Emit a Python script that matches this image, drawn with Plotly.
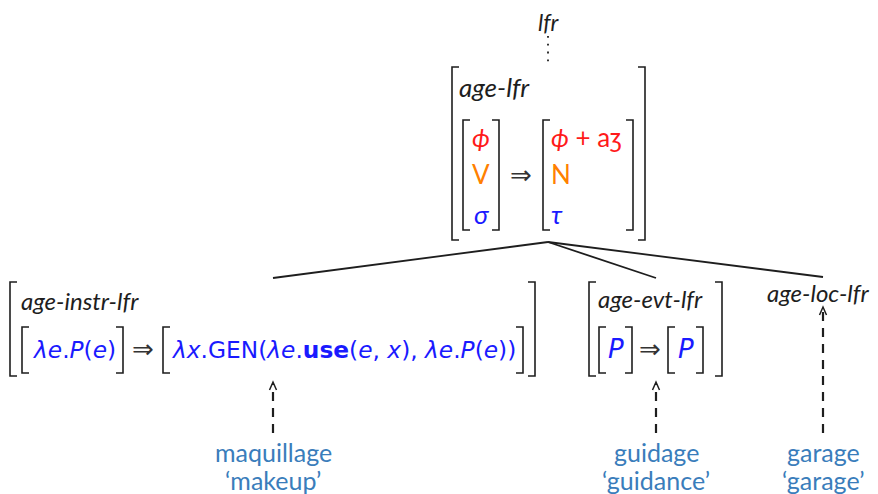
import plotly.graph_objects as go

# ---- data (text content of the diagram) ----
root_label = "lfr"
top_type = "age-lfr"
top_in = ["ϕ", "V", "σ"]
top_out = ["ϕ + aʒ", "N", "τ"]
top_colors = ["#ff1a1a", "#ff8000", "#1a1aff"]
child_types = ["age-instr-lfr", "age-evt-lfr", "age-loc-lfr"]
instr_in = "<i>λe</i>.<i>P</i>(<i>e</i>)"
instr_out = "<i>λx</i>.GEN(<i>λe</i>.<b>use</b>(<i>e</i>, <i>x</i>), <i>λe</i>.<i>P</i>(<i>e</i>))"
evt_in = "<i>P</i>"
evt_out = "<i>P</i>"
words = ["maquillage", "guidage", "garage"]
glosses = ["‘makeup’", "‘guidance’", "‘garage’"]

BLUE = "#1a1aff"
WORD = "#3a7dbb"
INK = "#1e1e1e"
FONT = "Lato"
MATH = "DejaVu Sans"

# page body has an 8px margin: figure is placed at (8, 8)
OFF = 8
W, H = 878, 494

fig = go.Figure()
shapes = []
ann = []

def bracket(x0, x1, y0, y1, w=7, lw=1.6):
    shapes.append(dict(type="path", path=f"M {x0+w},{y0} L {x0},{y0} L {x0},{y1} L {x0+w},{y1}",
                       line=dict(color=INK, width=lw)))
    shapes.append(dict(type="path", path=f"M {x1-w},{y0} L {x1},{y0} L {x1},{y1} L {x1-w},{y1}",
                       line=dict(color=INK, width=lw)))

def text(x, y, s, size=25, color=INK, anchor="left", family=FONT):
    ann.append(dict(x=x, y=y, text=s, showarrow=False, xanchor=anchor, yanchor="middle",
                    borderpad=0, font=dict(size=size, color=color, family=family)))

def line(x0, y0, x1, y1, lw=1.8, dash=None):
    d = dict(type="line", x0=x0, y0=y0, x1=x1, y1=y1, line=dict(color=INK, width=lw))
    if dash:
        d["line"]["dash"] = dash
    shapes.append(d)

def dashed_arrow(x, ytop, ybot):
    line(x, ybot, x, ytop + 2, lw=2.2, dash="9px,7px")
    shapes.append(dict(type="path", path=f"M {x-3.5},{ytop+8} L {x},{ytop} L {x+3.5},{ytop+8}",
                       line=dict(color=INK, width=1.5)))

# root
text(549, 22, f"<i>{root_label}</i>", size=23, anchor="center")
line(548, 36, 548, 66, lw=1.8, dash="1.8px,6px")

# top AVM
bracket(452, 645, 67, 240)
text(458, 87, f"<i>{top_type}</i>", size=26)
bracket(463, 499, 120, 230)
bracket(543, 633, 120, 230)
ys = [137, 174, 214]
for i in range(3):
    s_in = top_in[i] if i == 1 else f"<i>{top_in[i]}</i>"
    text(481, ys[i], s_in, size=26, color=top_colors[i], anchor="center")
    s_out = top_out[i] if i == 1 else ("<i>ϕ</i> + aʒ" if i == 0 else f"<i>{top_out[i]}</i>")
    text(550, ys[i], s_out, size=26, color=top_colors[i])
text(521, 175, "⇒", size=26, color="#333333", anchor="center", family="DejaVu Sans")

# branches
line(548, 242, 273, 278)
line(548, 242, 656, 278)
line(548, 242, 823, 277)

# left child
bracket(10, 535, 282, 376)
text(20, 300, f"<i>{child_types[0]}</i>", size=24)
bracket(22, 123, 327, 373)
text(31, 349, instr_in, size=23.3, color=BLUE, family=MATH)
text(143, 349, "⇒", size=26, color="#333333", anchor="center", family="DejaVu Sans")
bracket(163, 523, 327, 373)
text(170, 349, instr_out, size=23.3, color=BLUE, family=MATH)

# middle child
bracket(589, 722, 282, 376)
text(597, 298, f"<i>{child_types[1]}</i>", size=24)
bracket(599, 632, 327, 373)
text(616, 349, evt_in, size=26, color=BLUE, anchor="center", family=MATH)
text(650, 349, "⇒", size=26, color="#333333", anchor="center", family="DejaVu Sans")
bracket(668, 703, 327, 373)
text(686, 349, evt_out, size=26, color=BLUE, anchor="center", family=MATH)

# right child
text(818, 292, f"<i>{child_types[2]}</i>", size=24, anchor="center")

# words
wx = [273, 656, 823]
dashed_arrow(273, 382, 433)
dashed_arrow(656, 382, 433)
dashed_arrow(823, 307, 433)
for i in range(3):
    text(wx[i], 452, words[i], size=25, color=WORD, anchor="center")
    text(wx[i], 480, glosses[i], size=25, color=WORD, anchor="center")

fig.update_layout(
    width=W - OFF, height=H - OFF, margin=dict(l=0, r=0, t=0, b=0),
    paper_bgcolor="white", plot_bgcolor="white",
    xaxis=dict(range=[OFF, W], visible=False, fixedrange=True),
    yaxis=dict(range=[H, OFF], visible=False, fixedrange=True),
    shapes=shapes, annotations=ann, showlegend=False,
)
fig.write_html("out.html")
